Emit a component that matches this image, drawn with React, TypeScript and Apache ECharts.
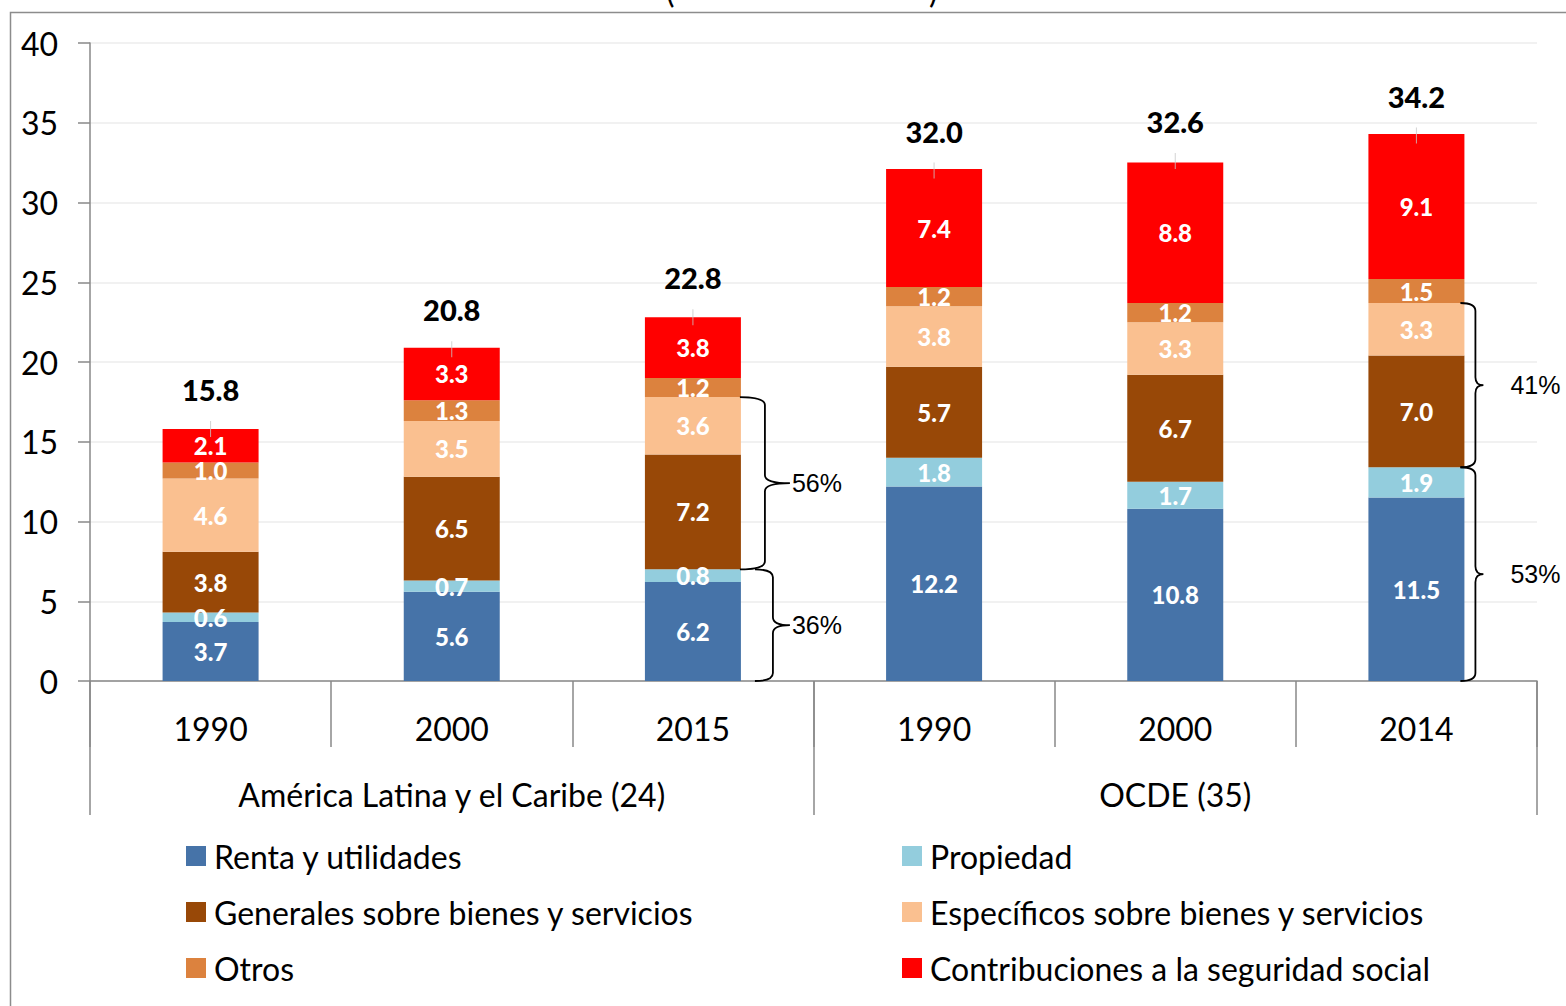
import React, { useEffect, useRef } from "react";
import * as echarts from "echarts";

const years = ["1990", "2000", "2015", "1990", "2000", "2014"];
const groups = ["América Latina y el Caribe (24)", "OCDE (35)"];
const renta = [3.7, 5.6, 6.2, 12.2, 10.8, 11.5];
const propiedad = [0.6, 0.7, 0.8, 1.8, 1.7, 1.9];
const generales = [3.8, 6.5, 7.2, 5.7, 6.7, 7.0];
const especificos = [4.6, 3.5, 3.6, 3.8, 3.3, 3.3];
const otros = [1.0, 1.3, 1.2, 1.2, 1.2, 1.5];
const contribuciones = [2.1, 3.3, 3.8, 7.4, 8.8, 9.1];
const totals = [15.8, 20.8, 22.8, 32.0, 32.6, 34.2];
const yTicks = [0, 5, 10, 15, 20, 25, 30, 35, 40];

const braceCats = [2, 2, 5, 5];
const braceKind = ["upper", "lower", "upper", "lower"];
const braceLabels = ["56%", "36%", "41%", "53%"];

const seriesNames = [
  "Renta y utilidades",
  "Propiedad",
  "Generales sobre bienes y servicios",
  "Específicos sobre bienes y servicios",
  "Otros",
  "Contribuciones a la seguridad social",
];
const seriesColors = ["#4673A8", "#93CDDD", "#984807", "#FAC090", "#DC823E", "#FF0000"];
const seriesData = [renta, propiedad, generales, especificos, otros, contribuciones];

// style config for braces (pixel offsets from bar center)
const braceStyle = [
  { end: 47, spine: 72, tip: 97, label: 99 },
  { end: 62, spine: 80, tip: 97, label: 99 },
  { end: 44, spine: 59, tip: 67, label: 94 },
  { end: 44, spine: 59, tip: 67, label: 94 },
];

const FONT = "Lato, 'Open Sans', sans-serif";

export default function App() {
  const ref = useRef<HTMLDivElement>(null);
  useEffect(() => {
    if (!ref.current) return;
    const chart = echarts.init(ref.current, null, { renderer: "svg" });

    const braceData = braceCats.map((c, i) => {
      const low = renta[c] + propiedad[c];
      const high = low + generales[c] + especificos[c];
      return braceKind[i] === "upper" ? [c, low, high] : [c, 0, low];
    });

    const barSeries = seriesNames.map((name, i) => ({
      name,
      type: "bar",
      stack: "total",
      barWidth: 96,
      data: seriesData[i],
      itemStyle: { color: seriesColors[i] },
      label: {
        show: true,
        position: "inside",
        color: "#fff",
        fontFamily: FONT,
        fontWeight: 900,
        fontSize: 24,
        textBorderWidth: 0,
        textBorderColor: "transparent",
        formatter: (p: any) => Number(p.value).toFixed(1),
      },
      emphasis: { disabled: true },
      z: 2,
    }));

    const legendText = {
      fontSize: 32,
      color: "#000",
      fontFamily: FONT,
      padding: [0, 0, 0, 3],
    };

    const option: any = {
      animation: false,
      backgroundColor: "#fff",
      textStyle: { fontFamily: FONT },
      grid: { left: 90, right: 29, top: 43, bottom: 325, containLabel: false },
      legend: [
        {
          data: [seriesNames[0], seriesNames[2], seriesNames[4]],
          orient: "vertical",
          left: 181,
          top: 835,
          itemWidth: 20,
          itemHeight: 20,
          itemGap: 24,
          icon: "rect",
          textStyle: legendText,
          selectedMode: false,
        },
        {
          data: [seriesNames[1], seriesNames[3], seriesNames[5]],
          orient: "vertical",
          left: 897,
          top: 835,
          itemWidth: 20,
          itemHeight: 20,
          itemGap: 24,
          icon: "rect",
          textStyle: legendText,
          selectedMode: false,
        },
      ],
      xAxis: [
        {
          type: "category",
          data: years,
          position: "bottom",
          axisLine: { show: true, lineStyle: { color: "#888", width: 1.5 } },
          axisTick: { show: true, length: 66, lineStyle: { color: "#888", width: 1.5 } },
          axisLabel: { fontSize: 32, color: "#000", fontFamily: FONT, margin: 31 },
        },
        {
          type: "category",
          data: groups,
          position: "bottom",
          axisLine: { show: false },
          axisTick: { show: true, length: 134, lineStyle: { color: "#888", width: 1.5 } },
          axisLabel: { fontSize: 32, color: "#000", fontFamily: FONT, margin: 97 },
        },
      ],
      yAxis: {
        type: "value",
        min: 0,
        max: 40,
        interval: 5,
        axisLine: { show: true, lineStyle: { color: "#888", width: 1.5 } },
        axisTick: { show: true, length: 12, lineStyle: { color: "#888", width: 1.5 } },
        axisLabel: {
          fontSize: 32,
          color: "#000",
          fontFamily: FONT,
          margin: 32,
          formatter: (v: number) => (yTicks.includes(v) ? String(v) : ""),
        },
        splitLine: { show: true, lineStyle: { color: "#EDEDED", width: 1.5 } },
      },
      series: [
        ...barSeries,
        {
          name: "Total",
          type: "scatter",
          data: totals,
          symbol: "rect",
          symbolSize: [1, 16],
          itemStyle: { color: "#C8C8C8" },
          label: {
            show: true,
            position: "top",
            distance: 17,
            color: "#000000",
            opacity: 1,
            textBorderWidth: 0,
            textBorderColor: "transparent",
            fontFamily: FONT,
            fontWeight: 900,
            fontSize: 29,
            formatter: (p: any) => Number(p.value).toFixed(1),
          },
          emphasis: { disabled: true },
          z: 5,
        },
        {
          name: "Braces",
          type: "custom",
          data: braceData,
          clip: false,
          z: 6,
          renderItem: (params: any, api: any) => {
            const i = params.dataIndex;
            const s = braceStyle[i];
            const c = api.value(0);
            const pLo = api.coord([c, api.value(1)]);
            const pHi = api.coord([c, api.value(2)]);
            const cx = pLo[0];
            const yT = pHi[1];
            const yB = pLo[1];
            const yM = (yT + yB) / 2;
            const xe = cx + s.end;
            const xs = cx + s.spine;
            const xt = cx + s.tip;
            const r = 8;
            const d =
              `M ${xe} ${yT} Q ${xs} ${yT} ${xs} ${yT + r} L ${xs} ${yM - r} ` +
              `Q ${xs} ${yM} ${xt} ${yM} Q ${xs} ${yM} ${xs} ${yM + r} ` +
              `L ${xs} ${yB - r} Q ${xs} ${yB} ${xe} ${yB}`;
            return {
              type: "group",
              children: [
                {
                  type: "path",
                  shape: { pathData: d },
                  style: { fill: "none", stroke: "#000", lineWidth: 1.8 },
                },
                {
                  type: "text",
                  style: {
                    text: braceLabels[i],
                    x: cx + s.label,
                    y: yM,
                    align: "left",
                    verticalAlign: "middle",
                    fill: "#000",
                    font: "25px 'Liberation Sans', Arial, sans-serif",
                  },
                },
              ],
            };
          },
        },
      ],
      graphic: [
        {
          type: "rect",
          left: 8,
          top: 10,
          shape: { width: 1600, height: 1100 },
          style: { fill: "none", stroke: "#8C8C8C", lineWidth: 1.5 },
          silent: true,
        },
        {
          type: "text",
          left: 666,
          top: -26,
          style: { text: "(", font: `32px ${FONT}`, fill: "#000" },
        },
        {
          type: "text",
          left: 929,
          top: -26,
          style: { text: ")", font: `32px ${FONT}`, fill: "#000" },
        },
      ],
    };
    chart.setOption(option);
    return () => chart.dispose();
  }, []);
  return (
    <div
      ref={ref}
      style={{ position: "absolute", left: 0, top: 0, width: 1566, height: 1006 }}
    />
  );
}
